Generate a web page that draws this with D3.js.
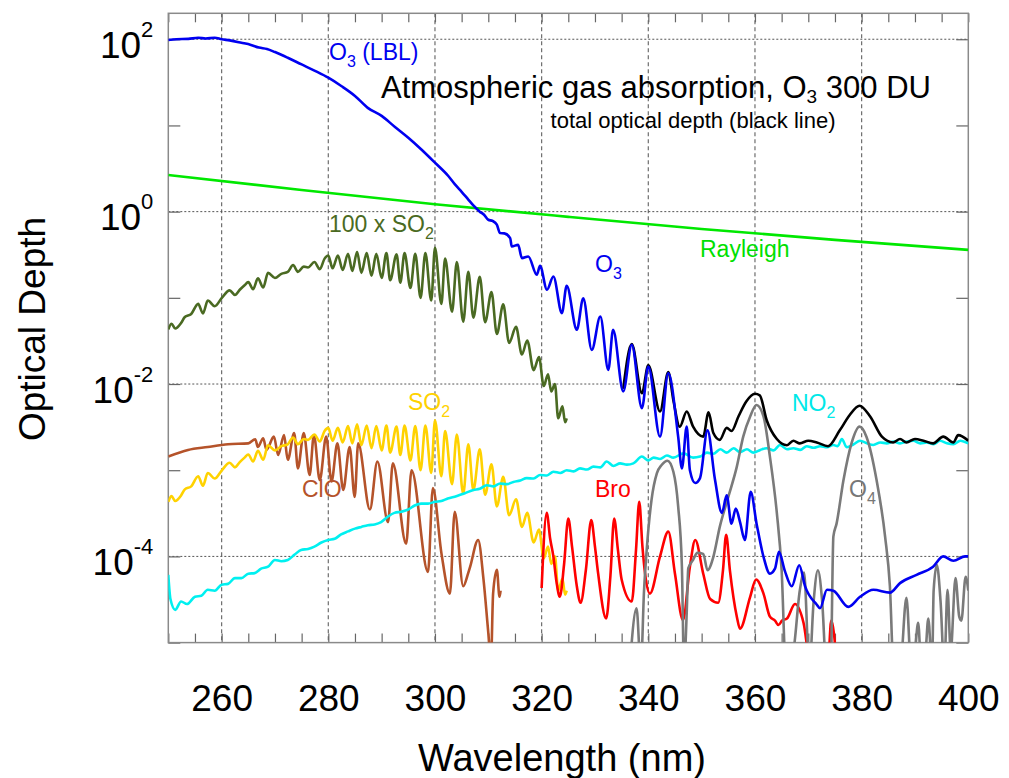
<!DOCTYPE html>
<html>
<head>
<meta charset="utf-8">
<script src="https://cdn.jsdelivr.net/npm/d3@7"></script>
<style>
  body { margin: 0; background: #fff; }
  text { font-family: "Liberation Sans", Arial, sans-serif; }
</style>
</head>
<body>
<div id="chart"></div>
<script>
// Wavelength (nm), optical depth pairs.
var rayleigh = [[250, 2.66], [275, 1.78], [300, 1.22], [325, 0.87], [350, 0.63], [375, 0.47], [400, 0.36]];

// O3: smooth LBL part on the left, band structure on the right.
var o3 = [
  [250, 98], [251.5, 100], [253.75, 101], [255.6, 104], [257, 102], [258.7, 104], [260, 100],
  [261.5, 97], [263.7, 91], [265.5, 86], [267, 80], [268.5, 77], [270, 71], [272.4, 61],
  [275, 51], [277.5, 43], [280, 35.8], [282.5, 28.5], [285, 22], [287.4, 16], [290, 12.9],
  [292.5, 9.6], [295, 7.2], [297.4, 5.3], [300, 3.7], [302.5, 2.59], [303.75, 2.07], [305, 1.7],
  [306.25, 1.38], [307.2, 1.18], [308.4, 1.0], [309.2, 0.92], [310, 0.805], [310.8, 0.78],
  [311.6, 0.705], [312.2, 0.564], [313, 0.56], [314.1, 0.493], [314.4, 0.394], [315.6, 0.412],
  [316.3, 0.289], [317.5, 0.302], [319.1, 0.185], [319.7, 0.235], [321, 0.124], [322.2, 0.177],
  [323.8, 0.0665], [324.7, 0.138], [326.6, 0.0426], [327.8, 0.099], [329.4, 0.0249], [331, 0.0607],
  [332.5, 0.0146], [333.4, 0.0426], [335.3, 0.0082], [336.9, 0.0285], [338.8, 0.00525], [340, 0.016],
  [342.2, 0.00245], [343.75, 0.0134], [345.6, 0.00245], [346.3, 0.00105], [347.2, 0.0032],
  [347.8, 0.001], [348.8, 7.1e-4], [349.7, 8.1e-4], [351.1, 2.9e-3], [352.5, 7.8e-4], [353.8, 3.2e-4],
  [354.7, 5.1e-4], [355.6, 2.4e-4], [356.4, 3.6e-4], [357.2, 2.5e-4], [358.1, 1.55e-4], [359.2, 5.6e-4],
  [360.3, 2.4e-4], [361.6, 9.9e-5], [362.8, 6.3e-5], [363.75, 7.2e-5], [364.5, 1.13e-4], [365.6, 6.8e-5],
  [366.9, 4.5e-5], [368.3, 7.9e-5], [369.4, 4.5e-5], [371.6, 2.75e-5], [372.2, 2.5e-5], [373.5, 4.1e-5],
  [374.7, 4.0e-5], [377.5, 2.6e-5], [379.7, 3.4e-5], [382.2, 4.1e-5], [385.3, 3.8e-5], [387.2, 4.9e-5],
  [390.3, 6.1e-5], [393.4, 7.6e-5], [395.3, 1.0e-4], [397.2, 8.9e-5], [399.4, 1.0e-4], [400, 1.0e-4]
];

// Total optical depth (black), visible once it leaves the O3 curve.
var total = [
  [335.3, 0.0088], [336.9, 0.029], [338.8, 0.0078], [340, 0.0165], [342.2, 0.0048], [343.75, 0.0138],
  [344.7, 0.0065], [345.9, 0.0032], [347.2, 0.0048], [348.4, 0.0032], [350.3, 0.00245], [351.3, 0.0047],
  [352.2, 0.0027], [353.4, 0.00225], [354.7, 0.0031], [355.6, 0.00285], [356.9, 0.0042], [358.4, 0.0063],
  [360, 0.0077], [360.9, 0.0074], [362.2, 0.0038], [364.1, 0.0023], [366, 0.00195], [367.2, 0.0022],
  [368.4, 0.00205], [370, 0.0022], [371.6, 0.0021], [373.7, 0.0019], [375.9, 0.0029], [377.8, 0.0044],
  [379.6, 0.0056], [381.6, 0.0042], [383.8, 0.00245], [385.9, 0.0021], [387.2, 0.0023], [388.4, 0.0021],
  [390, 0.0023], [391.6, 0.0022], [393.4, 0.00205], [395.3, 0.00245], [397.2, 0.0021], [398.1, 0.00255],
  [400, 0.0022]
];

var so2 = [
  [250, 4.3e-4], [250.6, 5.0e-4], [251.3, 4.4e-4], [252.4, 5.1e-4], [253.1, 6.0e-4], [254.3, 6.5e-4],
  [255.6, 8.5e-4], [256.5, 6.6e-4], [257.4, 9.3e-4], [258.7, 8.0e-4], [260, 9.9e-4], [261.5, 1.22e-3],
  [262.5, 1.08e-3], [263.4, 1.24e-3], [264.3, 1.4e-3], [265, 1.52e-3], [265.9, 1.26e-3], [266.8, 1.68e-3],
  [267.8, 1.32e-3], [268.7, 1.95e-3], [270, 1.7e-3], [271.2, 1.9e-3], [272.4, 2.0e-3], [273.4, 2.4e-3],
  [274.3, 2.0e-3], [275.4, 2.3e-3], [276.2, 2.25e-3], [277.4, 2.6e-3], [278.4, 2.15e-3], [279.3, 2.85e-3],
  [280, 3.1e-3], [280.8, 2.2e-3], [281.8, 3.1e-3], [282.7, 2.1e-3], [283.7, 3.25e-3], [284.5, 2.05e-3],
  [285.4, 3.4e-3], [286.2, 1.95e-3], [287.2, 3.3e-3], [288.1, 1.8e-3], [289, 3.25e-3], [290, 1.7e-3],
  [290.9, 3.3e-3], [291.6, 1.6e-3], [292.8, 3.2e-3], [293.5, 1.5e-3], [294.3, 3.3e-3], [295.4, 1.3e-3],
  [296.3, 3.25e-3], [297.3, 1.0e-3], [298.2, 3.3e-3], [299.3, 9.3e-4], [300, 3.8e-3], [301.2, 8.5e-4],
  [301.9, 2.85e-3], [303.2, 6.9e-4], [304.1, 2.6e-3], [305.3, 5.3e-4], [306.25, 2.0e-3], [307.2, 5.9e-4],
  [308.4, 1.75e-3], [309.4, 5.2e-4], [310.6, 1.17e-3], [311.6, 3.8e-4], [312.8, 8.4e-4], [313.9, 3.0e-4],
  [315.2, 4.6e-4], [316.3, 2.2e-4], [317.3, 3.2e-4], [318.5, 1.45e-4], [319.5, 2.05e-4], [320.4, 9.5e-5],
  [321.2, 1.3e-4], [321.8, 8.2e-5], [322.5, 1.0e-4], [323.1, 4.0e-5], [323.9, 5.5e-5], [324.4, 3.6e-5],
  [324.7, 4.0e-5]
];

var clo = [
  [250, 1.44e-3], [253.7, 1.72e-3], [257.4, 1.86e-3], [261.2, 2.0e-3], [265, 2.05e-3], [266.3, 2.29e-3],
  [266.8, 1.86e-3], [267.8, 2.35e-3], [268.4, 1.72e-3], [269.8, 2.45e-3], [270.6, 1.5e-3], [271.7, 2.55e-3],
  [272.4, 1.32e-3], [273.6, 2.7e-3], [274.3, 1.05e-3], [275.4, 2.7e-3], [276.5, 8.8e-4], [277.3, 2.55e-3],
  [278.4, 7.7e-4], [279.6, 2.45e-3], [280.6, 7.4e-4], [281.7, 2.05e-3], [282.8, 5.9e-4], [284, 1.86e-3],
  [284.95, 4.9e-4], [285.6, 2.05e-3], [287.8, 3.5e-4], [289.2, 1.26e-3], [291.2, 2.5e-4], [292.1, 1.2e-3],
  [294.6, 1.4e-4], [295.6, 1.0e-3], [298.7, 6.6e-5], [299.6, 6.2e-4], [301.2, 1.1e-4], [302.8, 3.7e-5],
  [303.7, 3.3e-4], [305.3, 4.5e-5], [306.2, 6.3e-5], [306.6, 7.6e-5], [308.1, 1.55e-4], [309.1, 5.4e-5],
  [310, 1.3e-5], [310.5, 6e-6], [310.9, 3.7e-5], [311.6, 7e-5], [312.1, 3.4e-5], [312.3, 4e-5]
];

var no2 = [
  [250, 6.1e-5], [250.4, 3.2e-5], [251.3, 2.4e-5], [252.4, 3.0e-5], [253.5, 2.8e-5], [255, 3.4e-5],
  [256.2, 3.5e-5], [257.4, 4.1e-5], [258.7, 4.0e-5], [260, 4.7e-5], [261.2, 4.8e-5], [262.5, 5.6e-5],
  [263.7, 5.6e-5], [265, 6.3e-5], [266.2, 6.4e-5], [267.4, 7.2e-5], [268.7, 7.6e-5], [270, 9.1e-5],
  [271.2, 8.8e-5], [272.4, 9.1e-5], [273.7, 1.05e-4], [274.9, 1.19e-4], [276.2, 1.22e-4], [277.4, 1.3e-4],
  [278.7, 1.45e-4], [280, 1.55e-4], [281.2, 1.6e-4], [282.4, 1.8e-4], [283.7, 1.95e-4], [285, 2.1e-4],
  [286.2, 2.2e-4], [287.4, 2.3e-4], [288.7, 2.35e-4], [289.9, 2.5e-4], [291.2, 2.9e-4], [292.4, 3.2e-4],
  [293.7, 3.3e-4], [295, 3.5e-4], [296.2, 3.9e-4], [297.4, 4.1e-4], [298.7, 4.1e-4], [300, 4.3e-4],
  [301.2, 4.4e-4], [302.4, 4.7e-4], [304, 5.0e-4], [305.6, 5.4e-4], [307.2, 5.9e-4], [308.4, 6.1e-4],
  [309.7, 6.7e-4], [311, 6.5e-4], [312.2, 7.0e-4], [313.5, 6.9e-4], [314.7, 7.3e-4], [316, 7.6e-4],
  [317.2, 8.1e-4], [318.5, 8.0e-4], [319.7, 8.8e-4], [321, 8.7e-4], [322.2, 9.6e-4], [323.5, 9.3e-4],
  [324.7, 1.0e-3], [326, 9.7e-4], [327.2, 1.05e-3], [328.5, 1.02e-3], [329.7, 1.1e-3], [331, 1.08e-3],
  [332.2, 1.26e-3], [333.5, 1.12e-3], [334.7, 1.2e-3], [336, 1.16e-3], [337.2, 1.2e-3], [338.8, 1.44e-3],
  [340, 1.3e-3], [341, 1.4e-3], [342.2, 1.35e-3], [343.5, 1.48e-3], [344.7, 1.4e-3], [346.6, 1.57e-3],
  [348.4, 1.4e-3], [349.7, 1.44e-3], [351, 1.6e-3], [352.2, 1.55e-3], [353.5, 1.75e-3], [354.7, 1.6e-3],
  [356, 1.8e-3], [357.2, 1.62e-3], [358.5, 1.75e-3], [359.7, 1.6e-3], [361, 1.72e-3], [362.2, 1.8e-3],
  [363.5, 1.7e-3], [364.7, 1.96e-3], [366, 1.75e-3], [367.2, 1.8e-3], [368.5, 1.72e-3], [369.7, 1.9e-3],
  [371, 1.82e-3], [372.2, 1.9e-3], [373.5, 1.85e-3], [374.7, 1.96e-3], [375.5, 1.9e-3], [376.3, 2.3e-3],
  [377.2, 1.85e-3], [378.5, 2.0e-3], [379.7, 2.2e-3], [381, 2.05e-3], [382.2, 1.96e-3], [383.5, 2.1e-3],
  [384.7, 2.05e-3], [386, 2.15e-3], [387.2, 2.05e-3], [388.5, 2.15e-3], [389.7, 2.2e-3], [391, 2.05e-3],
  [392.2, 2.1e-3], [393.5, 2.0e-3], [394.7, 2.2e-3], [396, 2.05e-3], [397.2, 2.0e-3], [398.5, 2.2e-3],
  [400, 2.05e-3]
];

var bro = [
  [320, 4.3e-5], [320.95, 3.2e-4], [321.6, 1.6e-4], [322.2, 1.0e-4], [322.8, 5e-5], [323.4, 3.4e-5],
  [324.2, 8e-5], [325, 2.75e-4], [325.7, 1.3e-4], [326.6, 4.5e-5], [327.3, 2.9e-5], [328.3, 7e-5],
  [329.3, 2.65e-4], [330, 1.3e-4], [330.6, 6.3e-5], [332.1, 1.9e-5], [332.9, 6e-5], [333.6, 2.75e-4],
  [334.3, 1.2e-4], [335, 5.4e-5], [336.9, 3.0e-5], [337.7, 1.2e-4], [338.3, 4.3e-4], [338.9, 1.3e-4],
  [339.4, 6.3e-5], [340.3, 3.7e-5], [342.2, 1.0e-4], [343.75, 1.94e-4], [345, 6.3e-5], [346.5, 1.83e-5],
  [347.8, 7.6e-5], [348.8, 1.55e-4], [350.3, 6.3e-5], [351.6, 3.2e-5], [353.1, 2.9e-5], [354, 6.9e-5],
  [354.6, 1.78e-4], [355.3, 6.9e-5], [356.6, 2.0e-5], [357.2, 1.45e-5], [359.1, 3.4e-5], [360.2, 5.4e-5],
  [361.6, 3.7e-5], [362.8, 2.0e-5], [363.75, 1.8e-5], [364.4, 1.6e-5], [365.1, 1.8e-5], [366, 1.9e-5],
  [367.5, 2.8e-5], [369.1, 1.7e-5], [370.4, 6e-6], [373.7, 6e-6], [374.3, 1.8e-5], [375.3, 6e-6]
];

var o4 = [
  [336.5, 5e-6], [337.8, 2.5e-5], [338.6, 5e-6], [339.2, 4e-5], [339.7, 1.19e-4], [340.6, 4.5e-4],
  [341.6, 9.2e-4], [342.5, 1.15e-3], [343.6, 1.29e-3], [344.7, 9.6e-4], [345.6, 3.8e-4], [346.3, 7.6e-5],
  [346.7, 5e-6], [347.2, 2.2e-5], [347.5, 7.3e-5], [348.4, 9.1e-5], [349.2, 1.1e-4], [350.3, 1.07e-4],
  [351.1, 6.9e-5], [352.2, 9.9e-5], [353.4, 2.2e-4], [355, 4.9e-4], [356.6, 1.1e-3], [357.8, 2.45e-3],
  [359.1, 4.2e-3], [360.3, 5.7e-3], [361.6, 4.2e-3], [362.8, 1.44e-3], [364.1, 3.2e-4], [365, 6.9e-5],
  [365.8, 5e-6], [367.2, 8e-6], [368.4, 4e-5], [369.2, 6.5e-5], [370.2, 5e-6], [371, 3e-5],
  [371.8, 6.9e-5], [372.6, 3e-5], [373.4, 5e-6], [374.2, 5e-6], [374.7, 1.7e-4], [375.3, 2.4e-4],
  [376.6, 7.7e-4], [378.1, 2.05e-3], [379.6, 3.2e-3], [380.9, 2.45e-3], [382.8, 7.7e-4], [384.4, 1.7e-4],
  [385.3, 4.5e-5], [386, 5e-6], [387.2, 5e-6], [388.4, 3.3e-5], [389.3, 5e-6], [390, 8e-6],
  [390.6, 1.7e-5], [391.2, 5e-6], [392, 8e-6], [392.5, 1.9e-5], [393.2, 5e-6], [393.5, 4e-5],
  [394.1, 8e-5], [394.8, 3e-5], [395.5, 5e-6], [396.1, 4.1e-5], [396.7, 8e-6], [397.6, 5.6e-5],
  [398.3, 2e-5], [398.7, 1.8e-5], [399.5, 5.8e-5], [400, 4e-5]
];

// Axis ticks and grid.
var xMajor = [260, 280, 300, 320, 340, 360, 380, 400];
var xGrid = [260, 280, 300, 320, 340, 360, 380];
var xMinor = d3.range(250, 401, 5);
var yDecades = [1e2, 1e1, 1e0, 1e-1, 1e-2, 1e-3, 1e-4, 1e-5];
var yLabelled = [1e2, 1e0, 1e-2, 1e-4];
var yExponents = ["2", "0", "-2", "-4"];

var width = 1009;
var height = 778;
var plotLeft = 168.3, plotRight = 968.3, plotTop = 13.3, plotBottom = 642.6;

var svg = d3.select("#chart")
  .append("svg")
    .attr("width", width)
    .attr("height", height);

var x = d3.scaleLinear().domain([250, 400]).range([plotLeft, plotRight]);
var y = d3.scaleLog().domain([1e-5, 200]).range([plotBottom, plotTop]);

function translate(a, b) {
  return "translate(" + a + "," + b + ")";
}

svg.append("defs").append("clipPath")
    .attr("id", "plotclip")
  .append("rect")
    .attr("x", plotLeft)
    .attr("y", plotTop)
    .attr("width", plotRight - plotLeft)
    .attr("height", plotBottom - plotTop);

// Grid lines.
svg.append("g")
  .selectAll("line.vgrid")
  .data(xGrid)
  .enter().append("line")
    .attr("x1", function (d) { return x(d); })
    .attr("x2", function (d) { return x(d); })
    .attr("y1", plotTop)
    .attr("y2", plotBottom)
    .attr("stroke", "#6e6e6e")
    .attr("stroke-width", 1.2)
    .attr("stroke-dasharray", "4,3");

svg.append("g")
  .selectAll("line.hgrid")
  .data(yLabelled)
  .enter().append("line")
    .attr("x1", plotLeft)
    .attr("x2", plotRight)
    .attr("y1", function (d) { return y(d); })
    .attr("y2", function (d) { return y(d); })
    .attr("stroke", "#555")
    .attr("stroke-width", 1)
    .attr("stroke-dasharray", "2,2");

// Inward ticks on all four sides.
function styleAxis(g) {
  g.select(".domain").remove();
  g.selectAll(".tick line").attr("stroke", "#666").attr("stroke-width", 1.2);
}

svg.append("g")
  .attr("transform", translate(0, plotBottom))
  .call(d3.axisBottom(x).tickValues(xMinor).tickSize(-9).tickFormat(""))
  .call(styleAxis);
svg.append("g")
  .attr("transform", translate(0, plotTop))
  .call(d3.axisTop(x).tickValues(xMinor).tickSize(-9).tickFormat(""))
  .call(styleAxis);
svg.append("g")
  .attr("transform", translate(plotLeft, 0))
  .call(d3.axisLeft(y).tickValues(yDecades).tickSize(-12).tickFormat(""))
  .call(styleAxis);
svg.append("g")
  .attr("transform", translate(plotRight, 0))
  .call(d3.axisRight(y).tickValues(yDecades).tickSize(-12).tickFormat(""))
  .call(styleAxis);

// X tick labels.
var xLabels = svg.append("g")
  .attr("transform", translate(0, plotBottom))
  .call(d3.axisBottom(x).tickValues(xMajor).tickSize(0).tickPadding(42).tickFormat(d3.format("d")));
xLabels.select(".domain").remove();
xLabels.selectAll("text")
  .attr("fill", "#000")
  .style("font-size", "37px")
  .style("font-family", "'Liberation Sans', Arial, sans-serif");

// Y tick labels as powers of ten.
var yLab = svg.append("g")
  .selectAll("text.ylab")
  .data(yLabelled)
  .enter().append("text")
    .attr("x", plotLeft - 15)
    .attr("y", function (d) { return y(d) + 18.7; })
    .attr("text-anchor", "end")
    .attr("fill", "#000")
    .style("font-size", "37px");
yLab.append("tspan").text("10");
yLab.append("tspan")
  .attr("dy", -21)
  .style("font-size", "22px")
  .text(function (d, i) { return yExponents[i]; });

// Outer frame.
svg.append("rect")
  .attr("x", plotLeft)
  .attr("y", plotTop)
  .attr("width", plotRight - plotLeft)
  .attr("height", plotBottom - plotTop)
  .attr("fill", "none")
  .attr("stroke", "#8a8a8a")
  .attr("stroke-width", 1.5);

// Curves.
var line = d3.line()
  .x(function (d) { return x(d[0]); })
  .y(function (d) { return y(d[1]); })
  .curve(d3.curveMonotoneX);

var so2x100 = so2.map(function (d) { return [d[0], d[1] * 100]; });

var series = [
  { data: rayleigh, color: "#00e800" },
  { data: so2x100, color: "#4a6a22" },
  { data: clo, color: "#b5532a" },
  { data: so2, color: "#ffd200" },
  { data: no2, color: "#00f0f0" },
  { data: bro, color: "#ff0000" },
  { data: o4, color: "#7a7a7a" },
  { data: total, color: "#000000" },
  { data: o3, color: "#0000f0" }
];

var curves = svg.append("g").attr("clip-path", "url(#plotclip)");
curves.selectAll("path")
  .data(series)
  .enter().append("path")
    .attr("d", function (d) { return line(d.data); })
    .attr("fill", "none")
    .attr("stroke", function (d) { return d.color; })
    .attr("stroke-width", 2.6)
    .attr("stroke-linejoin", "round");

// Curve labels: [text, subscript, tail, x, y, colour].
var labels = [
  ["O", "3", " (LBL)", 329, 60, "#0000f0"],
  ["100 x SO", "2", "", 329, 232, "#4a6a22"],
  ["Rayleigh", "", "", 700, 257, "#00e000"],
  ["O", "3", "", 595, 272, "#0000f0"],
  ["SO", "2", "", 408, 410, "#ffd200"],
  ["NO", "2", "", 792, 411, "#00e8e8"],
  ["ClO", "", "", 302, 497, "#b5532a"],
  ["Bro", "", "", 595, 497, "#ff0000"],
  ["O", "4", "", 849, 497, "#777777"]
];

var lab = svg.append("g")
  .selectAll("text.lab")
  .data(labels)
  .enter().append("text")
    .attr("x", function (d) { return d[3]; })
    .attr("y", function (d) { return d[4]; })
    .attr("fill", function (d) { return d[5]; })
    .style("font-size", "23px");
lab.append("tspan").text(function (d) { return d[0]; });
lab.append("tspan")
  .attr("dy", 7)
  .style("font-size", "16px")
  .text(function (d) { return d[1]; });
lab.append("tspan")
  .attr("dy", -7)
  .text(function (d) { return d[2]; });

// Title.
var title = svg.append("text")
  .attr("x", 381)
  .attr("y", 98)
  .attr("fill", "#000")
  .style("font-size", "31px");
title.append("tspan").text("Atmospheric gas absorption, O");
title.append("tspan").attr("dy", 5).style("font-size", "19px").text("3");
title.append("tspan").attr("dy", -5).text(" 300 DU");

svg.append("text")
  .attr("x", 693)
  .attr("y", 128)
  .attr("text-anchor", "middle")
  .attr("fill", "#000")
  .style("font-size", "22px")
  .text("total optical depth (black line)");

// Axis titles.
svg.append("text")
  .attr("x", 562)
  .attr("y", 771)
  .attr("text-anchor", "middle")
  .attr("fill", "#000")
  .style("font-size", "38px")
  .text("Wavelength (nm)");

svg.append("text")
  .attr("transform", translate(45, 329) + " rotate(-90)")
  .attr("text-anchor", "middle")
  .attr("fill", "#000")
  .style("font-size", "37px")
  .text("Optical Depth");
</script>
</body>
</html>
